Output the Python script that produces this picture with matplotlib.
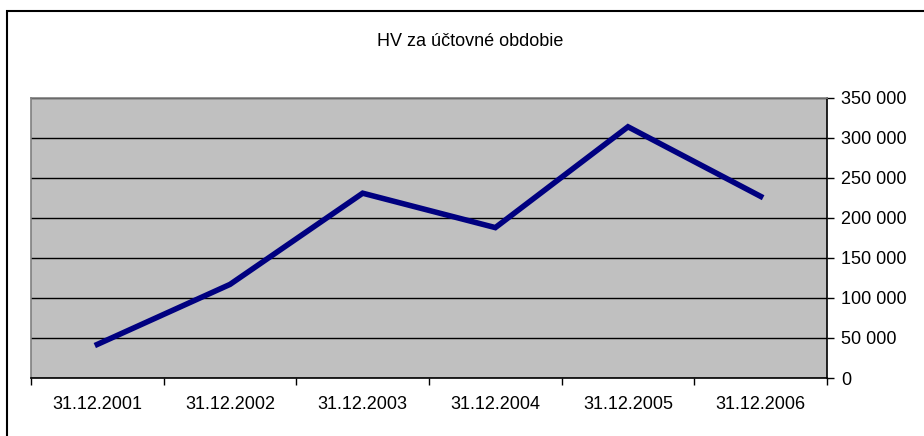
import matplotlib
matplotlib.use("Agg")
import matplotlib.pyplot as plt
from matplotlib.patches import Rectangle
from matplotlib.ticker import FuncFormatter

categories = ["31.12.2001", "31.12.2002", "31.12.2003", "31.12.2004", "31.12.2005", "31.12.2006"]
values = [42000, 117000, 231000, 188000, 314000, 227000]
y_ticks = [0, 50000, 100000, 150000, 200000, 250000, 300000, 350000]
title = "HV za účtovné obdobie"

plt.rcParams['font.family'] = ['Liberation Sans', 'DejaVu Sans']

W, H = 924, 436
fig = plt.figure(figsize=(W / 100, H / 100), dpi=100)
fig.patch.set_facecolor("white")

# outer chart border (extends beyond the image on right/bottom)
fig.patches.append(Rectangle((6.5 / W, -0.1), 1.2, 1 - 10.5 / H + 0.1, transform=fig.transFigure,
                             fill=False, edgecolor="black", linewidth=1.5))

ax = fig.add_axes([31 / W, (H - 378) / H, (827 - 31) / W, (378 - 98) / H])
ax.set_facecolor("#C0C0C0")

x = [i + 0.5 for i in range(len(categories))]
ax.plot(x, values, color="#000080", linewidth=4.0, solid_joinstyle="miter", zorder=3)

ax.set_xlim(0, len(categories))
ax.set_ylim(0, 350000)

ax.yaxis.tick_right()
ax.set_yticks(y_ticks)
ax.yaxis.set_major_formatter(FuncFormatter(lambda v, p: f"{int(v):,}".replace(",", " ")))
ax.tick_params(axis="y", direction="out", length=5, width=1, color="black", pad=5, labelsize=13,
               right=True, left=False)
for lab in ax.get_yticklabels():
    lab.set_horizontalalignment("left")

ax.set_xticks(range(len(categories) + 1))
ax.set_xticklabels([])
ax.set_xticks(x, minor=True)
ax.set_xticklabels(categories, minor=True)
ax.tick_params(axis="x", which="major", direction="out", length=5, width=1, color="black")
ax.tick_params(axis="x", which="minor", length=0, pad=13, labelsize=13)

ax.grid(axis="y", color="black", linewidth=1)
ax.set_axisbelow(True)

ax.spines["left"].set_color("#808080")
ax.spines["top"].set_color("#808080")
ax.spines["bottom"].set_color("black")
ax.spines["right"].set_color("black")
for s in ax.spines.values():
    s.set_linewidth(1.2)

fig.text(470 / W, 1 - 42 / H, title, ha="center", va="center", fontsize=13)

fig.savefig("out.png", dpi=100)
